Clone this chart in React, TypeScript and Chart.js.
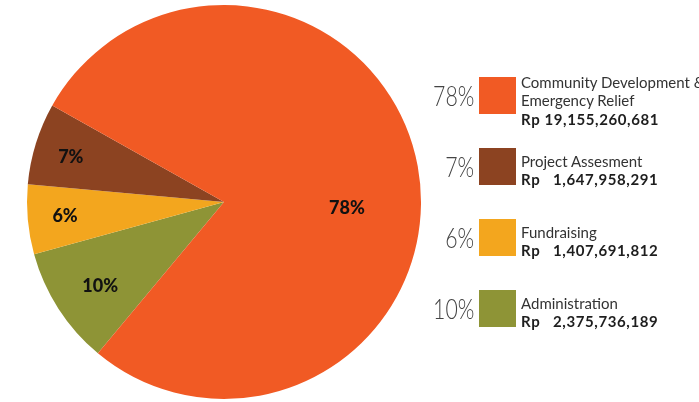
import React, { useEffect, useRef } from "react";
import { Chart, registerables } from "chart.js";

Chart.register(...registerables);

const categories: string[][] = [
  ["Community Development &", "Emergency Relief"],
  ["Project Assesment"],
  ["Fundraising"],
  ["Administration"],
];
const amounts: number[] = [19155260681, 1647958291, 1407691812, 2375736189];
const colors: string[] = ["#F15A24", "#8C4321", "#F3A61E", "#8E9436"];

const total = amounts.reduce((a, b) => a + b, 0);
const percentLabels = amounts.map((v) => Math.round((v / total) * 100) + "%");

// label placement tweaks (legend order): radial factor and angle offset in degrees
const labelRadius = [0.625, 0.81, 0.81, 0.76];
const labelAngleShift = [13.4, -1, 0, -1.4];

const sliceLabelPlugin = {
  id: "sliceLabels",
  afterDatasetsDraw(chart: any) {
    const meta = chart.getDatasetMeta(0);
    const ctx = chart.ctx;
    const n = amounts.length;
    ctx.save();
    ctx.fillStyle = "#111";
    ctx.font = "900 18px Lato";
    ctx.textAlign = "center";
    ctx.textBaseline = "middle";
    meta.data.forEach((arc: any, i: number) => {
      const li = n - 1 - i; // dataset is reversed
      const { x, y, startAngle, endAngle, outerRadius } = arc.getProps(
        ["x", "y", "startAngle", "endAngle", "outerRadius"],
        true
      );
      const mid = (startAngle + endAngle) / 2 + (labelAngleShift[li] * Math.PI) / 180;
      const r = outerRadius * labelRadius[li];
      ctx.fillText(percentLabels[li], x + Math.cos(mid) * r, y + Math.sin(mid) * r);
    });
    ctx.restore();
  },
};

export default function App() {
  const ref = useRef<HTMLCanvasElement | null>(null);
  useEffect(() => {
    if (!ref.current) return;
    const chart = new Chart(ref.current, {
      type: "pie",
      data: {
        labels: categories.map((c) => c.join(" ")).slice().reverse(),
        datasets: [
          {
            data: amounts.slice().reverse(),
            backgroundColor: colors.slice().reverse(),
            borderWidth: 0,
            hoverOffset: 0,
            offset: 0,
          },
        ],
      },
      options: {
        responsive: false,
        maintainAspectRatio: false,
        animation: false,
        rotation: 219.8,
        layout: { padding: { left: 27, top: 5, right: 278, bottom: 3 } },
        plugins: {
          legend: { display: false },
          tooltip: { enabled: false },
        },
        events: [],
      },
      plugins: [sliceLabelPlugin],
    });
    return () => chart.destroy();
  }, []);

  return (
    <div
      style={{
        position: "fixed",
        left: 0,
        top: 0,
        width: 699,
        height: 402,
        background: "#fff",
        overflow: "hidden",
      }}
    >
      <canvas
        ref={ref}
        width={699}
        height={402}
        style={{ position: "absolute", left: 0, top: 0, width: 699, height: 402 }}
      />
      <div style={{ position: "absolute", left: 420, top: 77, width: 290 }}>
        {categories.map((lines, i) => {
          const num = amounts[i].toLocaleString("en-US");
          return (
            <div
              key={i}
              style={{ position: "relative", height: 71, display: "flex", alignItems: "flex-start" }}
            >
              <div
                style={{
                  width: 54,
                  height: 37,
                  display: "flex",
                  alignItems: "center",
                  justifyContent: "flex-end",
                }}
              >
                <span
                  style={{
                    font: "300 28px Lato",
                    color: "#444",
                    display: "inline-block",
                    transform: "scaleX(0.76)",
                    transformOrigin: "right center",
                    lineHeight: "37px",
                  }}
                >
                  {percentLabels[i]}
                </span>
              </div>
              <div
                style={{
                  width: 37,
                  height: 37,
                  marginLeft: 5,
                  background: colors[i],
                  flex: "none",
                }}
              />
              <div
                style={{
                  marginLeft: 5,
                  marginTop: lines.length > 1 ? -4.5 : 3.5,
                  font: "400 15px Lato",
                  lineHeight: "18.5px",
                  color: "#333",
                  whiteSpace: "nowrap",
                }}
              >
                {lines.map((l, j) => (
                  <div key={j}>{l}</div>
                ))}
                <div style={{ fontWeight: 700, color: "#1e1e1e", letterSpacing: 0.6, whiteSpace: "pre" }}>
                  {"Rp" + (num.length < 14 ? "   " : " ") + num}
                </div>
              </div>
            </div>
          );
        })}
      </div>
    </div>
  );
}
